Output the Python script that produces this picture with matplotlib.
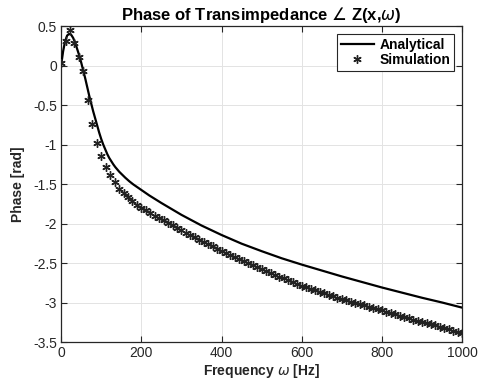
import numpy as np
import matplotlib
matplotlib.use('Agg')
import matplotlib.pyplot as plt

plt.rcParams['font.family'] = ['Liberation Sans', 'DejaVu Sans']
plt.rcParams['mathtext.fontset'] = 'dejavusans'

# Analytical phase (frequency in Hz, phase in rad)
freq_ana = [0, 5, 10, 15, 20, 25, 30, 35, 40, 45, 50, 55, 60, 65, 70, 75, 80, 85,
            90, 95, 100, 105, 110, 115, 120, 125, 130, 135, 140, 145, 150, 160,
            170, 180, 190, 200, 220, 250, 300, 350, 400, 450, 500, 550, 600, 650,
            700, 750, 800, 850, 900, 950, 1000]
phase_ana = [0.0, 0.18, 0.31, 0.38, 0.40, 0.39, 0.35, 0.29, 0.21, 0.13, 0.04, -0.06,
             -0.16, -0.27, -0.38, -0.48, -0.58, -0.67, -0.76, -0.85, -0.93, -1.00,
             -1.06, -1.12, -1.17, -1.21, -1.25, -1.285, -1.315, -1.345, -1.37,
             -1.42, -1.465, -1.505, -1.54, -1.575, -1.645, -1.74, -1.89, -2.025,
             -2.145, -2.255, -2.35, -2.44, -2.52, -2.595, -2.67, -2.74, -2.81,
             -2.875, -2.94, -3.00, -3.065]

# Simulated phase
freq_sim = [0, 11.1, 22.2, 33.3, 44.4, 55.6, 66.7, 77.8, 88.9, 100,
            111.1, 122.2, 133.3, 144.4, 155.6, 166.7, 177.8, 188.9, 200,
            211.1, 222.2, 233.3, 244.4, 255.6, 266.7, 277.8, 288.9, 300,
            311.1, 322.2, 333.3, 344.4, 355.6, 366.7, 377.8, 388.9, 400,
            411.1, 422.2, 433.3, 444.4, 455.6, 466.7, 477.8, 488.9, 500,
            511.1, 522.2, 533.3, 544.4, 555.6, 566.7, 577.8, 588.9, 600,
            611.1, 622.2, 633.3, 644.4, 655.6, 666.7, 677.8, 688.9, 700,
            711.1, 722.2, 733.3, 744.4, 755.6, 766.7, 777.8, 788.9, 800,
            811.1, 822.2, 833.3, 844.4, 855.6, 866.7, 877.8, 888.9, 900,
            911.1, 922.2, 933.3, 944.4, 955.6, 966.7, 977.8, 988.9, 1000]
phase_sim = [0.03, 0.31, 0.45, 0.28, 0.11, -0.07, -0.44, -0.74, -0.98, -1.15,
             -1.28, -1.39, -1.48, -1.56, -1.61, -1.66, -1.71, -1.76, -1.80,
             -1.835, -1.87, -1.90, -1.93, -1.96, -1.99, -2.02, -2.055, -2.085,
             -2.115, -2.145, -2.175, -2.205, -2.235, -2.265, -2.29, -2.32, -2.35,
             -2.375, -2.40, -2.43, -2.455, -2.48, -2.505, -2.53, -2.555, -2.58,
             -2.605, -2.63, -2.65, -2.675, -2.695, -2.72, -2.74, -2.765, -2.785,
             -2.805, -2.825, -2.845, -2.865, -2.885, -2.90, -2.92, -2.94, -2.955,
             -2.97, -2.99, -3.005, -3.02, -3.035, -3.055, -3.07, -3.085, -3.10,
             -3.115, -3.135, -3.15, -3.165, -3.18, -3.20, -3.215, -3.23, -3.245,
             -3.26, -3.275, -3.29, -3.305, -3.325, -3.34, -3.355, -3.37, -3.385]

fig = plt.figure(figsize=(4.85, 3.83), dpi=100)
ax = fig.add_axes([0.126, 0.107, 0.827, 0.825])

ax.plot(freq_ana, phase_ana, color='black', lw=1.6, label='Analytical', zorder=3)
ax.plot(freq_sim, phase_sim, ls='none', marker=(6, 2, 0), ms=6, mew=1.0,
        color='#222222', label='Simulation', zorder=4)

ax.set_xlim(0, 1000)
ax.set_ylim(-3.5, 0.5)
ax.set_xticks(np.arange(0, 1001, 200))
ax.set_yticks(np.arange(-3.5, 0.51, 0.5))
ax.set_yticklabels(['-3.5', '-3', '-2.5', '-2', '-1.5', '-1', '-0.5', '0', '0.5'])
ax.grid(True, color='#e3e3e3', lw=0.7)
ax.set_axisbelow(True)
ax.tick_params(direction='in', top=True, right=True, length=4, width=0.8,
               labelsize=10, colors='#262626', pad=3)
for s in ax.spines.values():
    s.set_color('#262626')
    s.set_linewidth(0.9)

ax.set_xlabel('Frequency $\\omega$ [Hz]', fontsize=10, fontweight='bold',
              color='#262626', labelpad=1)
ax.set_ylabel('Phase [rad]', fontsize=10, fontweight='bold', color='#262626',
              labelpad=6)
ax.set_title('Phase of Transimpedance $\\angle$ Z(x,$\\omega$)', fontsize=12,
             fontweight='bold', pad=4)

leg = ax.legend(loc='upper right', fancybox=False, edgecolor='#262626',
                framealpha=1, handlelength=2.4, borderpad=0.25,
                labelspacing=0.1, handletextpad=0.4, borderaxespad=0.6,
                prop={'weight': 'bold', 'size': 10})
leg.get_frame().set_linewidth(0.8)

fig.savefig('out.png', dpi=100)
